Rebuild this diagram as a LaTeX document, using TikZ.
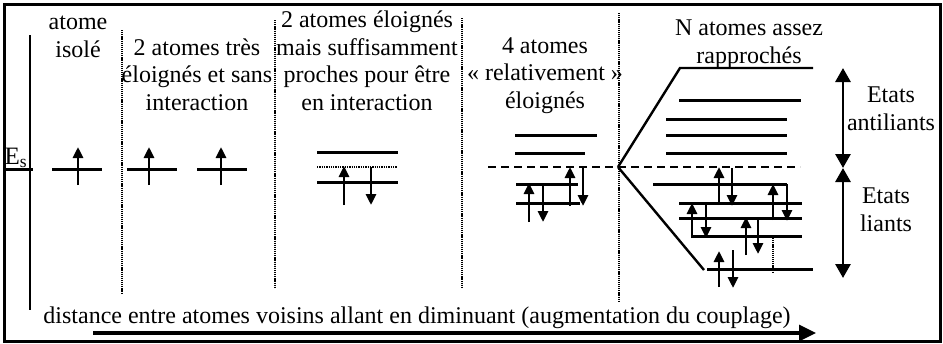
\documentclass[tikz,border=0pt]{standalone}
\usepackage{fontspec}
\setmainfont{Liberation Serif}
\usetikzlibrary{arrows.meta}
\begin{document}
\begin{tikzpicture}[x=1pt,y=-1pt,
  lbl/.style={font=\fontsize{24}{27.5}\selectfont, align=center, inner sep=0pt, anchor=base},
  lvl/.style={line width=3pt},
  sep/.style={line width=1.5pt, dash pattern=on 1.2pt off 0.9pt},
  eup/.style={line width=2.7pt, -{Triangle[width=10pt,length=11pt]}},
  bigtip/.style={line width=2.8pt, {Triangle[width=15pt,length=14pt]}-{Triangle[width=15pt,length=14pt]}},
  fan/.style={line width=2.4pt},
  mid/.style={line width=2.4pt, dash pattern=on 8pt off 5pt}
]
\useasboundingbox (0,0) rectangle (943,343);
% frame and energy axis
\draw[line width=3pt] (4,4) rectangle (940,341);
\draw[line width=2.7pt] (30,35) -- (30,310);
\draw[lvl] (5,169) -- (33,169);
\node[font=\fontsize{25}{28}\selectfont, inner sep=0pt, anchor=base] (es) at (16,164) {E\textsubscript{s}};

% column separators
\draw[sep] (122,30) -- (122,293);
\draw[sep] (275,20) -- (275,287);
\draw[sep] (462,18) -- (462,287);
\draw[sep] (619,13) -- (619,302);

% column titles (anchored on the baseline of their last line)
\node[lbl] (t1) at (78,57) {atome\\isolé};
\node[lbl] (t2) at (197,110) {2 atomes très\\éloignés et sans\\interaction};
\node[lbl] (t3) at (367,110) {2 atomes éloignés\\mais suffisamment\\proches pour être\\en interaction};
\node[lbl] (t4) at (545,108) {4 atomes\\« relativement »\\éloignés};
\node[lbl] (t5) at (749,63) {N atomes assez\\rapprochés};
\node[lbl] (t6) at (891,130) {Etats\\antiliants};
\node[lbl] (t7) at (886,231) {Etats\\liants};
\node[lbl] (t8) at (417,323) {distance entre atomes voisins allant en diminuant (augmentation du couplage)};

% isolated atom
\draw[lvl] (52,169) -- (102,169);
\draw[eup] (78,185) -- (78,147);
% two distant atoms
\draw[lvl] (127,169) -- (177,169);
\draw[eup] (149,185) -- (149,147);
\draw[lvl] (197,169) -- (247,169);
\draw[eup] (221,185) -- (221,147);

% two interacting atoms
\draw[lvl] (317,152) -- (398,152);
\draw[line width=2pt, dash pattern=on 1.3pt off 1pt] (317,167) -- (397,167);
\draw[lvl] (317,182) -- (398,182);
\draw[eup] (344,205) -- (344,166);
\draw[eup] (371,167) -- (371,205);

% four atoms
\draw[lvl] (515,135) -- (597,135);
\draw[lvl] (515,153) -- (585,153);
\coordinate (v) at (618,167);
\draw[mid] (488,167) -- (v) -- (800,167);
\draw[lvl] (516,184) -- (578,184);
\draw[lvl] (516,203) -- (580,203);
\draw[eup] (529,222) -- (529,183);
\draw[eup] (543,184) -- (543,222);
\draw[eup] (570,206) -- (570,167);
\draw[eup] (583,168) -- (583,206);

% N atoms: band fan
\draw[fan] (v) -- (680,68) -- (813,68);
\draw[fan] (v) -- (704,270);
\draw[lvl] (679,100) -- (801,100);
\draw[lvl] (666,119) -- (787,119);
\draw[lvl] (666,135) -- (787,135);
\draw[lvl] (666,153) -- (787,153);
\draw[lvl] (653,184) -- (787,184);
\draw[lvl] (679,203) -- (802,203);
\draw[lvl] (679,218) -- (802,218);
\draw[lvl] (693,236) -- (802,236);
\draw[lvl] (707,269) -- (813,269);
\draw[eup] (719,205) -- (719,167);
\draw[eup] (732,168) -- (732,206);
\draw[eup] (773,220) -- (773,184);
\draw[eup] (787,184) -- (787,221);
\draw[eup] (692,238) -- (692,203);
\draw[eup] (706,203) -- (706,238);
\draw[eup] (746,255) -- (746,217);
\draw[eup] (758,218) -- (758,254);
\draw[eup] (719,287) -- (719,251);
\draw[eup] (733,250) -- (733,288);
\draw[line width=1.5pt, dash pattern=on 1.2pt off 0.9pt] (773,238) -- (773,273);

% state ranges
\coordinate (atop) at (843,68);
\coordinate (amid) at (843,168);
\coordinate (abot) at (843,278);
\draw[bigtip] (atop) -- (amid);
\draw[bigtip] (amid) -- (abot);

% coupling direction
\draw[line width=3.2pt, -{Triangle[width=16pt,length=17pt]}] (93,333) -- (816,333);
\end{tikzpicture}
\end{document}
